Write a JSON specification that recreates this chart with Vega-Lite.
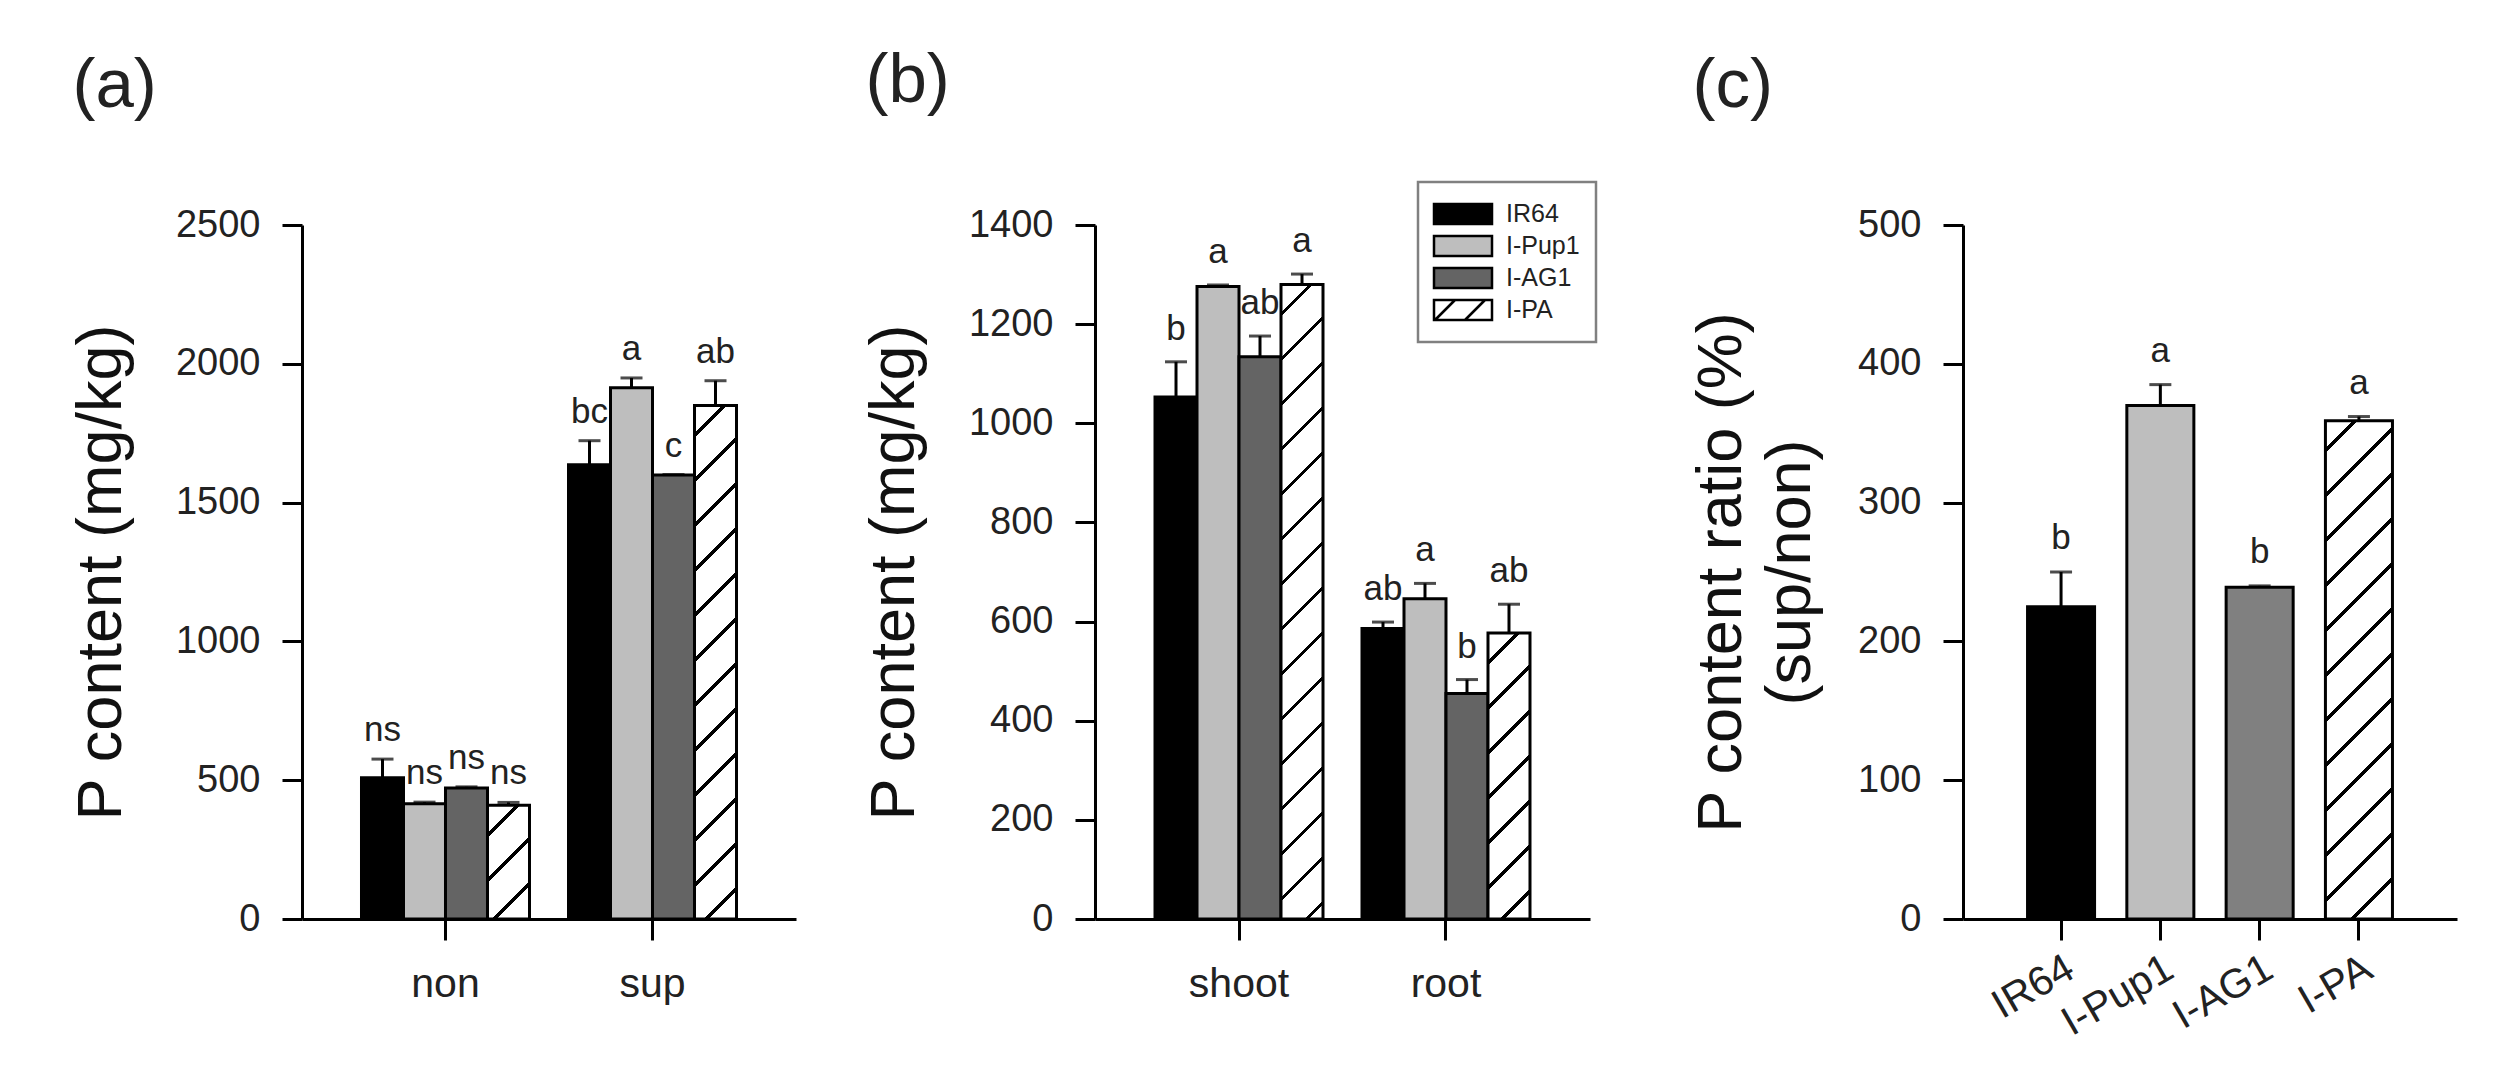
{
  "$schema": "https://vega.github.io/schema/vega-lite/v6.json",
  "background": "white",
  "padding": {"left": 70, "top": 46, "right": 10, "bottom": 10},
  "spacing": 67,
  "bounds": "full",
  "datasets": {
    "pa": [
      {"cond": "non", "geno": "IR64", "mean": 509, "err": 576, "sig": "ns"},
      {"cond": "non", "geno": "I-Pup1", "mean": 415, "err": 421, "sig": "ns"},
      {"cond": "non", "geno": "I-AG1", "mean": 472, "err": 476, "sig": "ns"},
      {"cond": "non", "geno": "I-PA", "mean": 410, "err": 420, "sig": "ns"},
      {"cond": "sup", "geno": "IR64", "mean": 1636, "err": 1723, "sig": "bc"},
      {"cond": "sup", "geno": "I-Pup1", "mean": 1914, "err": 1949, "sig": "a"},
      {"cond": "sup", "geno": "I-AG1", "mean": 1599, "err": 1601, "sig": "c"},
      {"cond": "sup", "geno": "I-PA", "mean": 1850, "err": 1939, "sig": "ab"}
    ],
    "pb": [
      {"part": "shoot", "geno": "IR64", "mean": 1053, "err": 1124, "sig": "b"},
      {"part": "shoot", "geno": "I-Pup1", "mean": 1276, "err": 1279, "sig": "a"},
      {"part": "shoot", "geno": "I-AG1", "mean": 1134, "err": 1176, "sig": "ab"},
      {"part": "shoot", "geno": "I-PA", "mean": 1280, "err": 1301, "sig": "a"},
      {"part": "root", "geno": "IR64", "mean": 586, "err": 599, "sig": "ab"},
      {"part": "root", "geno": "I-Pup1", "mean": 646, "err": 677, "sig": "a"},
      {"part": "root", "geno": "I-AG1", "mean": 455, "err": 483, "sig": "b"},
      {"part": "root", "geno": "I-PA", "mean": 577, "err": 635, "sig": "ab"}
    ],
    "pc": [
      {"geno": "IR64", "mean": 225, "err": 250, "sig": "b"},
      {"geno": "I-Pup1", "mean": 370, "err": 385, "sig": "a"},
      {"geno": "I-AG1", "mean": 239, "err": 240, "sig": "b"},
      {"geno": "I-PA", "mean": 359, "err": 362, "sig": "a"}
    ]
  },
  "hconcat": [
    {
      "width": 494,
      "height": 694,
      "title": {"text": "(a)", "offset": 85, "dx": 2},
      "data": {"name": "pa"},
      "encoding": {
        "x": {"field": "cond", "type": "nominal", "sort": ["non", "sup"], "scale": {"paddingInner": 0.1884, "paddingOuter": 0.2874}, "axis": {"title": null}},
        "xOffset": {"field": "geno", "type": "nominal", "sort": ["IR64", "I-Pup1", "I-AG1", "I-PA"], "scale": {"paddingInner": 0, "paddingOuter": 0}}
      },
      "layer": [
        {
          "mark": {"type": "bar", "stroke": "#000", "strokeWidth": 3},
          "encoding": {
            "y": {"field": "mean", "type": "quantitative", "title": "P content (mg/kg)", "scale": {"domain": [0, 2500], "nice": false}, "axis": {"values": [0, 500, 1000, 1500, 2000, 2500], "format": "d", "title": "P content (mg/kg)"}},
            "fill": {
              "field": "geno", "type": "nominal",
              "scale": {"domain": ["IR64", "I-Pup1", "I-AG1", "I-PA"], "range": ["#000000", "#bebebe", "#646464", "#ffffff"]},
              "legend": null,
              "condition": [
                {"test": "datum.geno === 'I-PA' && datum.cond === 'non'", "value": {"gradient": "linear", "x1": 0, "y1": 0, "x2": 0.4447, "y2": 1.205, "stops": [
                  {"offset": 0, "color": "#fff"},
                  {"offset": 0.1772, "color": "#fff"}, {"offset": 0.1772, "color": "#000"}, {"offset": 0.208, "color": "#000"}, {"offset": 0.208, "color": "#fff"},
                  {"offset": 0.466, "color": "#fff"}, {"offset": 0.466, "color": "#000"}, {"offset": 0.4968, "color": "#000"}, {"offset": 0.4968, "color": "#fff"},
                  {"offset": 0.7548, "color": "#fff"}, {"offset": 0.7548, "color": "#000"}, {"offset": 0.7856, "color": "#000"}, {"offset": 0.7856, "color": "#fff"},
                  {"offset": 1, "color": "#fff"}]}},
                {"test": "datum.geno === 'I-PA' && datum.cond === 'sup'", "value": {"gradient": "linear", "x1": 0, "y1": 0, "x2": 0.0879, "y2": 1.0746, "stops": [
                  {"offset": 0, "color": "#fff"},
                  {"offset": 0.0497, "color": "#fff"}, {"offset": 0.0497, "color": "#000"}, {"offset": 0.0583, "color": "#000"}, {"offset": 0.0583, "color": "#fff"},
                  {"offset": 0.1307, "color": "#fff"}, {"offset": 0.1307, "color": "#000"}, {"offset": 0.1393, "color": "#000"}, {"offset": 0.1393, "color": "#fff"},
                  {"offset": 0.2117, "color": "#fff"}, {"offset": 0.2117, "color": "#000"}, {"offset": 0.2203, "color": "#000"}, {"offset": 0.2203, "color": "#fff"},
                  {"offset": 0.2927, "color": "#fff"}, {"offset": 0.2927, "color": "#000"}, {"offset": 0.3013, "color": "#000"}, {"offset": 0.3013, "color": "#fff"},
                  {"offset": 0.3737, "color": "#fff"}, {"offset": 0.3737, "color": "#000"}, {"offset": 0.3823, "color": "#000"}, {"offset": 0.3823, "color": "#fff"},
                  {"offset": 0.4547, "color": "#fff"}, {"offset": 0.4547, "color": "#000"}, {"offset": 0.4633, "color": "#000"}, {"offset": 0.4633, "color": "#fff"},
                  {"offset": 0.5357, "color": "#fff"}, {"offset": 0.5357, "color": "#000"}, {"offset": 0.5443, "color": "#000"}, {"offset": 0.5443, "color": "#fff"},
                  {"offset": 0.6167, "color": "#fff"}, {"offset": 0.6167, "color": "#000"}, {"offset": 0.6253, "color": "#000"}, {"offset": 0.6253, "color": "#fff"},
                  {"offset": 0.6976, "color": "#fff"}, {"offset": 0.6976, "color": "#000"}, {"offset": 0.7062, "color": "#000"}, {"offset": 0.7062, "color": "#fff"},
                  {"offset": 0.7786, "color": "#fff"}, {"offset": 0.7786, "color": "#000"}, {"offset": 0.7872, "color": "#000"}, {"offset": 0.7872, "color": "#fff"},
                  {"offset": 0.8596, "color": "#fff"}, {"offset": 0.8596, "color": "#000"}, {"offset": 0.8682, "color": "#000"}, {"offset": 0.8682, "color": "#fff"},
                  {"offset": 0.9406, "color": "#fff"}, {"offset": 0.9406, "color": "#000"}, {"offset": 0.9492, "color": "#000"}, {"offset": 0.9492, "color": "#fff"},
                  {"offset": 1, "color": "#fff"}]}}
              ]
            }
          }
        },
        {"mark": {"type": "rule", "strokeWidth": 3, "color": "#000"}, "encoding": {"y": {"field": "err", "type": "quantitative", "title": "P content (mg/kg)"}, "y2": {"field": "mean"}}},
        {"mark": {"type": "tick", "orient": "horizontal", "size": 22, "thickness": 3, "color": "#000"}, "encoding": {"y": {"field": "err", "type": "quantitative", "title": "P content (mg/kg)"}}},
        {"mark": {"type": "text", "baseline": "alphabetic", "align": "center", "dy": -18, "fontSize": 35, "color": "#222"}, "encoding": {"y": {"field": "err", "type": "quantitative", "title": "P content (mg/kg)"}, "text": {"field": "sig"}}}
      ]
    },
    {
      "width": 495,
      "height": 694,
      "title": {"text": "(b)", "offset": 65, "dx": 2},
      "data": {"name": "pb"},
      "encoding": {
        "x": {"field": "part", "type": "nominal", "sort": ["shoot", "root"], "scale": {"paddingInner": 0.1884, "paddingOuter": 0.2899}, "axis": {"title": ".", "titleOpacity": 0, "titleX": 528, "titleY": 0, "titleAlign": "right", "titleBaseline": "bottom", "titleFontSize": 10}},
        "xOffset": {"field": "geno", "type": "nominal", "sort": ["IR64", "I-Pup1", "I-AG1", "I-PA"], "scale": {"paddingInner": 0, "paddingOuter": 0}}
      },
      "layer": [
        {
          "mark": {"type": "bar", "stroke": "#000", "strokeWidth": 3},
          "encoding": {
            "y": {"field": "mean", "type": "quantitative", "title": "P content (mg/kg)", "scale": {"domain": [0, 1400], "nice": false}, "axis": {"values": [0, 200, 400, 600, 800, 1000, 1200, 1400], "format": "d", "title": "P content (mg/kg)"}},
            "fill": {
              "field": "geno", "type": "nominal",
              "scale": {"domain": ["IR64", "I-Pup1", "I-AG1", "I-PA"], "range": ["#000000", "#bebebe", "#646464", "#ffffff"]},
              "legend": {
                "orient": "none", "legendX": 323, "legendY": -43, "title": null,
                "padding": 16, "strokeColor": "#808080", "fillColor": "#ffffff",
                "symbolType": "M-2,-0.69H2V0.69H-2Z", "symbolSize": 841, "symbolOffset": 13,
                "labelFontSize": 25, "labelColor": "#222", "labelOffset": 27, "rowPadding": -1,
                "encoding": {
                  "legend": {"strokeWidth": {"value": 2.5}},
                  "labels": {"fontSize": {"value": 25}},
                  "symbols": {
                    "stroke": {"value": "#000"},
                    "strokeWidth": {"value": 2.5},
                    "shape": {
                      "condition": {"test": "datum.value === 'I-PA'", "value": "M-2,-0.69H2V0.69H-2Z M-1.931,0.69L-0.552,-0.69 M0.138,0.69L1.517,-0.69"},
                      "value": "M-2,-0.69H2V0.69H-2Z"
                    },
                    "fill": {
                      "value": {"expr": "datum.value === 'IR64' ? '#000000' : datum.value === 'I-Pup1' ? '#bebebe' : datum.value === 'I-AG1' ? '#646464' : '#ffffff'"}
                    }
                  }
                }
              },
              "condition": [
                {"test": "datum.geno === 'I-PA' && datum.part === 'shoot'", "value": {"gradient": "linear", "x1": 0, "y1": 0, "x2": 0.07027, "y2": 1.06158, "stops": [
                  {"offset": 0, "color": "#fff"},
                  {"offset": 0.0407, "color": "#fff"}, {"offset": 0.0407, "color": "#000"}, {"offset": 0.0479, "color": "#000"}, {"offset": 0.0479, "color": "#fff"},
                  {"offset": 0.1073, "color": "#fff"}, {"offset": 0.1073, "color": "#000"}, {"offset": 0.1145, "color": "#000"}, {"offset": 0.1145, "color": "#fff"},
                  {"offset": 0.1738, "color": "#fff"}, {"offset": 0.1738, "color": "#000"}, {"offset": 0.181, "color": "#000"}, {"offset": 0.181, "color": "#fff"},
                  {"offset": 0.2403, "color": "#fff"}, {"offset": 0.2403, "color": "#000"}, {"offset": 0.2475, "color": "#000"}, {"offset": 0.2475, "color": "#fff"},
                  {"offset": 0.3068, "color": "#fff"}, {"offset": 0.3068, "color": "#000"}, {"offset": 0.314, "color": "#000"}, {"offset": 0.314, "color": "#fff"},
                  {"offset": 0.3733, "color": "#fff"}, {"offset": 0.3733, "color": "#000"}, {"offset": 0.3805, "color": "#000"}, {"offset": 0.3805, "color": "#fff"},
                  {"offset": 0.4399, "color": "#fff"}, {"offset": 0.4399, "color": "#000"}, {"offset": 0.4471, "color": "#000"}, {"offset": 0.4471, "color": "#fff"},
                  {"offset": 0.5064, "color": "#fff"}, {"offset": 0.5064, "color": "#000"}, {"offset": 0.5136, "color": "#000"}, {"offset": 0.5136, "color": "#fff"},
                  {"offset": 0.5729, "color": "#fff"}, {"offset": 0.5729, "color": "#000"}, {"offset": 0.5801, "color": "#000"}, {"offset": 0.5801, "color": "#fff"},
                  {"offset": 0.6394, "color": "#fff"}, {"offset": 0.6394, "color": "#000"}, {"offset": 0.6466, "color": "#000"}, {"offset": 0.6466, "color": "#fff"},
                  {"offset": 0.7059, "color": "#fff"}, {"offset": 0.7059, "color": "#000"}, {"offset": 0.7131, "color": "#000"}, {"offset": 0.7131, "color": "#fff"},
                  {"offset": 0.7725, "color": "#fff"}, {"offset": 0.7725, "color": "#000"}, {"offset": 0.7797, "color": "#000"}, {"offset": 0.7797, "color": "#fff"},
                  {"offset": 0.839, "color": "#fff"}, {"offset": 0.839, "color": "#000"}, {"offset": 0.8462, "color": "#000"}, {"offset": 0.8462, "color": "#fff"},
                  {"offset": 0.9055, "color": "#fff"}, {"offset": 0.9055, "color": "#000"}, {"offset": 0.9127, "color": "#000"}, {"offset": 0.9127, "color": "#fff"},
                  {"offset": 0.972, "color": "#fff"}, {"offset": 0.972, "color": "#000"}, {"offset": 0.9792, "color": "#000"}, {"offset": 0.9792, "color": "#fff"},
                  {"offset": 1, "color": "#fff"}]}},
                {"test": "datum.geno === 'I-PA' && datum.part === 'root'", "value": {"gradient": "linear", "x1": 0, "y1": 0, "x2": 0.16486, "y2": 1.12264, "stops": [
                  {"offset": 0, "color": "#fff"},
                  {"offset": 0.0842, "color": "#fff"}, {"offset": 0.0842, "color": "#000"}, {"offset": 0.0988, "color": "#000"}, {"offset": 0.0988, "color": "#fff"},
                  {"offset": 0.2214, "color": "#fff"}, {"offset": 0.2214, "color": "#000"}, {"offset": 0.236, "color": "#000"}, {"offset": 0.236, "color": "#fff"},
                  {"offset": 0.3586, "color": "#fff"}, {"offset": 0.3586, "color": "#000"}, {"offset": 0.3732, "color": "#000"}, {"offset": 0.3732, "color": "#fff"},
                  {"offset": 0.4957, "color": "#fff"}, {"offset": 0.4957, "color": "#000"}, {"offset": 0.5103, "color": "#000"}, {"offset": 0.5103, "color": "#fff"},
                  {"offset": 0.6329, "color": "#fff"}, {"offset": 0.6329, "color": "#000"}, {"offset": 0.6475, "color": "#000"}, {"offset": 0.6475, "color": "#fff"},
                  {"offset": 0.7701, "color": "#fff"}, {"offset": 0.7701, "color": "#000"}, {"offset": 0.7847, "color": "#000"}, {"offset": 0.7847, "color": "#fff"},
                  {"offset": 0.9073, "color": "#fff"}, {"offset": 0.9073, "color": "#000"}, {"offset": 0.9219, "color": "#000"}, {"offset": 0.9219, "color": "#fff"},
                  {"offset": 1, "color": "#fff"}]}}
              ]
            }
          }
        },
        {"mark": {"type": "rule", "strokeWidth": 3, "color": "#000"}, "encoding": {"y": {"field": "err", "type": "quantitative", "title": "P content (mg/kg)"}, "y2": {"field": "mean"}}},
        {"mark": {"type": "tick", "orient": "horizontal", "size": 22, "thickness": 3, "color": "#000"}, "encoding": {"y": {"field": "err", "type": "quantitative", "title": "P content (mg/kg)"}}},
        {"mark": {"type": "text", "baseline": "alphabetic", "align": "center", "dy": -22, "fontSize": 35, "color": "#222"}, "encoding": {"y": {"field": "err", "type": "quantitative", "title": "P content (mg/kg)"}, "text": {"field": "sig"}}}
      ]
    },
    {
      "width": 494,
      "height": 694,
      "title": {"text": "(c)", "offset": 85, "dx": 2},
      "data": {"name": "pc"},
      "encoding": {
        "x": {"field": "geno", "type": "nominal", "sort": ["IR64", "I-Pup1", "I-AG1", "I-PA"], "scale": {"paddingInner": 0.325, "paddingOuter": 0.65}, "axis": {"title": null, "labelAngle": -30, "labelAlign": "right", "labelBaseline": "top", "labelPadding": 8}}
      },
      "layer": [
        {
          "mark": {"type": "bar", "stroke": "#000", "strokeWidth": 3},
          "encoding": {
            "y": {"field": "mean", "type": "quantitative", "title": ["P content ratio (%)", "(sup/non)"], "scale": {"domain": [0, 500], "nice": false}, "axis": {"values": [0, 100, 200, 300, 400, 500], "format": "d", "title": ["P content ratio (%)", "(sup/non)"], "titleLineHeight": 69, "titlePadding": 35}},
            "fill": {
              "field": "geno", "type": "nominal",
              "scale": {"domain": ["IR64", "I-Pup1", "I-AG1", "I-PA"], "range": ["#000000", "#bebebe", "#808080", "#ffffff"]},
              "legend": null,
              "condition": [
                {"test": "datum.geno === 'I-PA'", "value": {"gradient": "linear", "x1": 0, "y1": 0, "x2": 0.14983, "y2": 1.1143, "stops": [
                  {"offset": 0, "color": "#fff"},
                  {"offset": 0.0489, "color": "#fff"}, {"offset": 0.0489, "color": "#000"}, {"offset": 0.0573, "color": "#000"}, {"offset": 0.0573, "color": "#fff"},
                  {"offset": 0.1285, "color": "#fff"}, {"offset": 0.1285, "color": "#000"}, {"offset": 0.1369, "color": "#000"}, {"offset": 0.1369, "color": "#fff"},
                  {"offset": 0.2081, "color": "#fff"}, {"offset": 0.2081, "color": "#000"}, {"offset": 0.2165, "color": "#000"}, {"offset": 0.2165, "color": "#fff"},
                  {"offset": 0.2877, "color": "#fff"}, {"offset": 0.2877, "color": "#000"}, {"offset": 0.2961, "color": "#000"}, {"offset": 0.2961, "color": "#fff"},
                  {"offset": 0.3673, "color": "#fff"}, {"offset": 0.3673, "color": "#000"}, {"offset": 0.3757, "color": "#000"}, {"offset": 0.3757, "color": "#fff"},
                  {"offset": 0.4469, "color": "#fff"}, {"offset": 0.4469, "color": "#000"}, {"offset": 0.4553, "color": "#000"}, {"offset": 0.4553, "color": "#fff"},
                  {"offset": 0.5265, "color": "#fff"}, {"offset": 0.5265, "color": "#000"}, {"offset": 0.5349, "color": "#000"}, {"offset": 0.5349, "color": "#fff"},
                  {"offset": 0.6061, "color": "#fff"}, {"offset": 0.6061, "color": "#000"}, {"offset": 0.6145, "color": "#000"}, {"offset": 0.6145, "color": "#fff"},
                  {"offset": 0.6857, "color": "#fff"}, {"offset": 0.6857, "color": "#000"}, {"offset": 0.6941, "color": "#000"}, {"offset": 0.6941, "color": "#fff"},
                  {"offset": 0.7653, "color": "#fff"}, {"offset": 0.7653, "color": "#000"}, {"offset": 0.7737, "color": "#000"}, {"offset": 0.7737, "color": "#fff"},
                  {"offset": 0.8449, "color": "#fff"}, {"offset": 0.8449, "color": "#000"}, {"offset": 0.8533, "color": "#000"}, {"offset": 0.8533, "color": "#fff"},
                  {"offset": 0.9245, "color": "#fff"}, {"offset": 0.9245, "color": "#000"}, {"offset": 0.9329, "color": "#000"}, {"offset": 0.9329, "color": "#fff"},
                  {"offset": 1, "color": "#fff"}]}}
              ]
            }
          }
        },
        {"mark": {"type": "rule", "strokeWidth": 3, "color": "#000"}, "encoding": {"y": {"field": "err", "type": "quantitative", "title": ["P content ratio (%)", "(sup/non)"]}, "y2": {"field": "mean"}}},
        {"mark": {"type": "tick", "orient": "horizontal", "size": 22, "thickness": 3, "color": "#000"}, "encoding": {"y": {"field": "err", "type": "quantitative", "title": ["P content ratio (%)", "(sup/non)"]}}},
        {"mark": {"type": "text", "baseline": "alphabetic", "align": "center", "dy": -23, "fontSize": 35, "color": "#222"}, "encoding": {"y": {"field": "err", "type": "quantitative", "title": ["P content ratio (%)", "(sup/non)"]}, "text": {"field": "sig"}}}
      ]
    }
  ],
  "resolve": {"scale": {"x": "independent", "y": "independent", "fill": "independent", "xOffset": "independent"}, "legend": {"fill": "independent"}},
  "config": {
    "font": "Liberation Sans",
    "view": {"stroke": null},
    "axis": {"grid": false, "domainColor": "#000", "domainWidth": 3, "tickColor": "#000", "tickWidth": 3, "labelColor": "#222", "titleColor": "#111", "titleFontWeight": "normal", "labelFont": "Liberation Sans", "titleFont": "Liberation Sans", "labelFlush": false, "labelOverlap": false},
    "axisY": {"tickSize": 20, "labelFontSize": 38, "labelPadding": 22, "titleFontSize": 63, "titlePadding": 42},
    "axisX": {"tickSize": 21, "labelFontSize": 41, "labelPadding": 24, "labelAngle": 0},
    "legend": {"labelFont": "Liberation Sans", "labelFontSize": 25},
    "title": {"font": "Liberation Sans", "fontSize": 69, "fontWeight": "normal", "color": "#222", "anchor": "start", "baseline": "bottom"}
  }
}
